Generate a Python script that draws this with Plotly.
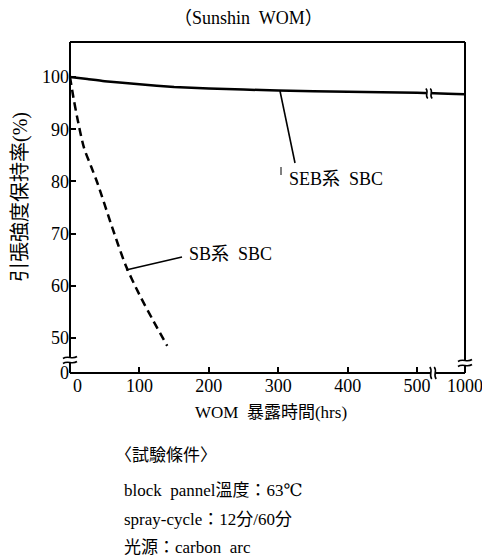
import plotly.graph_objects as go

# --- data -------------------------------------------------------------
# Retention of tensile strength (%) vs. Sunshine WOM exposure time (hrs)
seb_hours = [0, 25, 50, 100, 150, 200, 250, 300, 400, 500, 1000]
seb_retention = [100.0, 99.6, 99.2, 98.6, 98.1, 97.8, 97.6, 97.4, 97.15, 97.0, 96.7]

sb_hours = [0, 5, 10, 20, 30, 40, 60, 80, 100, 120, 140]
sb_retention = [100.0, 96.0, 92.5, 86.5, 83.0, 79.5, 71.5, 64.0, 58.3, 53.3, 48.5]

x_tick_hours = [0, 100, 200, 300, 400, 500, 1000]
x_tick_text = ["0", "100", "200", "300", "400", "500", "1000"]
y_tick_values = [50, 60, 70, 80, 90, 100]

conditions = [
    "〈試驗條件〉",
    "block  pannel溫度：63℃",
    "spray-cycle：12分/60分",
    "光源：carbon  arc",
]

# --- broken-axis helpers ---------------------------------------------
X_BREAK = 500          # hours where the x axis is broken
X_AFTER = 69           # axis units used for the 500 -> 1000 hrs span
Y_BOTTOM = 43.3        # axis value drawn as "0" below the y-axis break


def x_axis(h):
    return h if h <= X_BREAK else X_BREAK + (h - X_BREAK) * X_AFTER / 500


X_MAX = x_axis(1000)
Y_MAX = 106.7

W, H = 482, 558
L, R, T, B = 70, 17, 42, 185
PW, PH = W - L - R, H - T - B


def px(x):
    return (x - L) / PW


def py(y):
    return (H - B - y) / PH


SERIF = "'Liberation Serif', 'Times New Roman', 'DejaVu Serif', 'Noto Sans CJK JP', serif"
INK = "#000000"

fig = go.Figure()

fig.add_trace(go.Scatter(
    x=[x_axis(h) for h in seb_hours], y=seb_retention,
    mode="lines", line=dict(color=INK, width=2.5, shape="spline", smoothing=0.6),
    showlegend=False, hoverinfo="skip"))

fig.add_trace(go.Scatter(
    x=[x_axis(h) for h in sb_hours], y=sb_retention,
    mode="lines", line=dict(color=INK, width=2.5, dash="8px,5px",
                            shape="spline", smoothing=0.8),
    showlegend=False, hoverinfo="skip"))

shapes = []


def seg(x0, y0, x1, y1, w=2):
    shapes.append(dict(type="line", xref="paper", yref="paper",
                       x0=px(x0), y0=py(y0), x1=px(x1), y1=py(y1),
                       line=dict(color=INK, width=w), layer="above"))


def gap(x0, y0, x1, y1):
    shapes.append(dict(type="rect", xref="paper", yref="paper",
                       x0=px(x0), y0=py(y0), x1=px(x1), y1=py(y1),
                       fillcolor="white", line=dict(width=0), layer="above"))


def squiggle_h(cx, cy, half=7):
    # horizontal "~" crossing a vertical line
    for dy in (-2.5, 2.5):
        y = cy + dy
        p = (f"M {px(cx-half)},{py(y+1)} C {px(cx-2)},{py(y-2.5)} "
             f"{px(cx+2)},{py(y+2.5)} {px(cx+half)},{py(y-1)}")
        shapes.append(dict(type="path", xref="paper", yref="paper", path=p,
                           line=dict(color=INK, width=1.6), layer="above"))


def squiggle_v(cx, cy, half=6):
    # vertical "~" crossing a horizontal line
    for dx in (-2.2, 2.2):
        x = cx + dx
        p = (f"M {px(x-1)},{py(cy-half)} C {px(x+2.5)},{py(cy-2)} "
             f"{px(x-2.5)},{py(cy+2)} {px(x+1)},{py(cy+half)}")
        shapes.append(dict(type="path", xref="paper", yref="paper", path=p,
                           line=dict(color=INK, width=1.6), layer="above"))


# frame
seg(L, T, L + PW, T)                 # top
seg(L, T, L, H - B)                  # left
seg(L + PW, T, L + PW, H - B)        # right
seg(L, H - B, L + PW, H - B)         # bottom

# axis breaks
gap(62, 358, 78, 362)
squiggle_h(L, 360)
gap(L + PW - 8, 361, L + PW + 8, 365)
squiggle_h(L + PW, 363)
gap(431, H - B - 8, 435, H - B + 8)
squiggle_v(433, H - B)
# break on the SEB curve between 500 and 1000 hrs
gap(426, 86, 432, 100)
squiggle_v(429, 93.5, half=5)

# leader lines from the curves to their labels
seg(280, 91, 295, 163, w=1.6)
seg(281, 167, 281, 175, w=1)
seg(126, 270, 182, 257, w=1.6)

annotations = [
    dict(x=px(248), y=py(18), text="（Sunshin  WOM）", font=dict(size=18)),
    dict(x=px(287), y=py(179), text="SEB系  SBC", xanchor="left", font=dict(size=18)),
    dict(x=px(187), y=py(254), text="SB系  SBC", xanchor="left", font=dict(size=18)),
    dict(x=px(20), y=py(197), text="引張強度保持率(%)", textangle=-90, font=dict(size=20)),
    dict(x=px(271), y=py(412), text="WOM  暴露時間(hrs)", font=dict(size=17)),
    # end labels of the broken axes
    dict(x=px(77), y=py(386), text="0", font=dict(size=18)),
    dict(x=px(465), y=py(386), text="1000", font=dict(size=18)),
]
for line, (x0, y0) in zip(conditions, [(113, 455), (122, 490), (122, 519), (122, 547)]):
    annotations.append(dict(x=px(x0), y=py(y0), text=line, xanchor="left",
                            font=dict(size=17)))
for a in annotations:
    a.update(xref="paper", yref="paper", showarrow=False, yanchor="middle")
    a.setdefault("xanchor", "center")
    a["font"].update(family=SERIF, color=INK)

# tick labels at the two broken ends are placed as annotations above
x_labels = [t if t not in ("0", "1000") else "" for t in x_tick_text]

fig.update_layout(
    width=W, height=H,
    margin=dict(l=L, r=R, t=T, b=B),
    paper_bgcolor="white", plot_bgcolor="white",
    font=dict(family=SERIF, color=INK, size=18),
    shapes=shapes, annotations=annotations, showlegend=False,
    xaxis=dict(range=[0, X_MAX], showgrid=False, zeroline=False, showline=False,
               tickmode="array", tickvals=[x_axis(h) for h in x_tick_hours],
               ticktext=x_labels, ticks="inside", ticklen=6, tickwidth=2,
               tickcolor=INK, tickfont=dict(size=18, family=SERIF)),
    yaxis=dict(range=[Y_BOTTOM, Y_MAX], showgrid=False, zeroline=False, showline=False,
               tickmode="array", tickvals=[Y_BOTTOM] + y_tick_values,
               ticktext=["0"] + [str(v) for v in y_tick_values],
               ticks="inside", ticklen=6, tickwidth=2, tickcolor=INK,
               tickfont=dict(size=18, family=SERIF)),
)

fig.write_html("out.html")
